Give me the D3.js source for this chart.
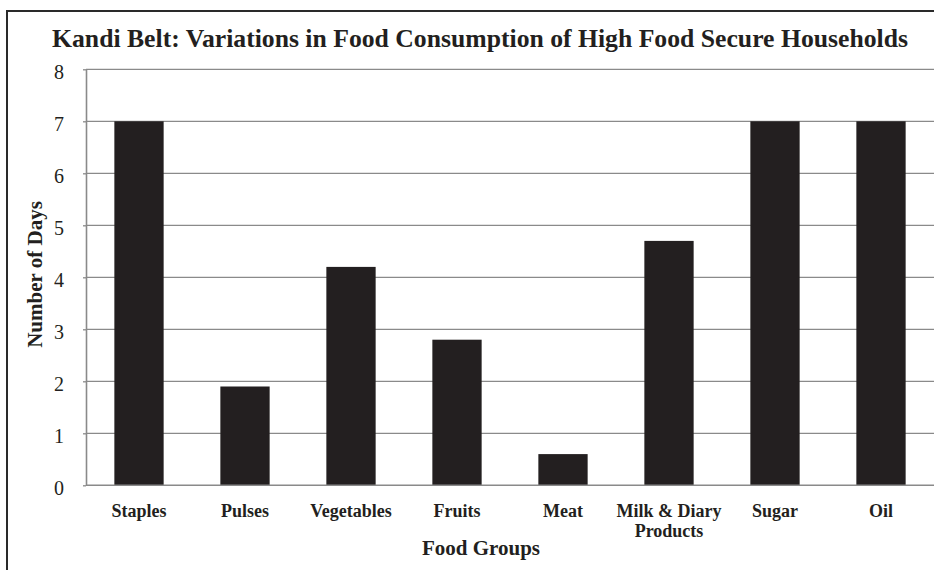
<!DOCTYPE html>
<html>
<head>
<meta charset="utf-8">
<script src="https://cdn.jsdelivr.net/npm/d3@7"></script>
<style>
  html, body { margin: 0; padding: 0; background: #fff; }
  svg { display: block; }
  text { font-family: "Liberation Serif", "Times New Roman", serif; fill: #231f20; }
</style>
</head>
<body>
<svg id="chart" width="934" height="570"></svg>
<script>
// Food groups and average number of days consumed per week
const categories = ["Staples", "Pulses", "Vegetables", "Fruits", "Meat", "Milk & Diary Products", "Sugar", "Oil"];
const categoryLines = [["Staples"], ["Pulses"], ["Vegetables"], ["Fruits"], ["Meat"], ["Milk & Diary", "Products"], ["Sugar"], ["Oil"]];
const daysValues = [7, 1.9, 4.2, 2.8, 0.6, 4.7, 7, 7];
const yTicks = [0, 1, 2, 3, 4, 5, 6, 7, 8];

const titleText = "Kandi Belt: Variations in Food Consumption of High Food Secure Households";
const xTitle = "Food Groups";
const yTitle = "Number of Days";

const svg = d3.select("#chart");
const W = 934, H = 570;
const plot = { left: 86, right: 934, top: 69.3, bottom: 485.3 };

// outer frame (left and top edges visible)
svg.append("rect")
  .attr("x", 7).attr("y", 11)
  .attr("width", W + 10).attr("height", H + 10)
  .attr("fill", "#fff")
  .attr("stroke", "#2a2a2a")
  .attr("stroke-width", 2);

const x = d3.scaleBand()
  .domain(categories)
  .range([plot.left, plot.right])
  .paddingInner(0.535)
  .paddingOuter(0.2675);

const y = d3.scaleLinear()
  .domain([0, 8])
  .range([plot.bottom, plot.top]);

// horizontal gridlines
svg.append("g")
  .selectAll("line")
  .data(yTicks.filter(t => t > 0))
  .join("line")
  .attr("x1", plot.left).attr("x2", plot.right)
  .attr("y1", d => y(d)).attr("y2", d => y(d))
  .attr("stroke", "#8a8a8a")
  .attr("stroke-width", 1.3);

// bars
svg.append("g")
  .selectAll("rect")
  .data(categories)
  .join("rect")
  .attr("x", d => x(d))
  .attr("width", x.bandwidth())
  .attr("y", (d, i) => y(daysValues[i]))
  .attr("height", (d, i) => y(0) - y(daysValues[i]))
  .attr("fill", "#231f20");

// y axis
const yAxis = svg.append("g")
  .attr("transform", `translate(${plot.left},0)`)
  .call(d3.axisLeft(y).tickValues(yTicks).tickSize(3).tickPadding(19).tickSizeOuter(0));
yAxis.select(".domain").attr("stroke", "#8a8a8a").attr("stroke-width", 1.6);
yAxis.selectAll(".tick line").attr("stroke", "#8a8a8a").attr("stroke-width", 1.3);
yAxis.selectAll(".tick text")
  .attr("font-size", 20)
  .attr("font-family", "Liberation Serif, serif")
  .attr("fill", "#231f20")
  .attr("dy", "0.45em");

// baseline
svg.append("line")
  .attr("x1", plot.left).attr("x2", plot.right)
  .attr("y1", y(0)).attr("y2", y(0))
  .attr("stroke", "#8a8a8a")
  .attr("stroke-width", 1.6);

// x category labels
const xLab = svg.append("g")
  .selectAll("text")
  .data(categories)
  .join("text")
  .attr("x", d => x(d) + x.bandwidth() / 2)
  .attr("y", 517)
  .attr("text-anchor", "middle")
  .attr("font-size", 18)
  .attr("font-weight", "bold");
xLab.each(function(d, i) {
  const t = d3.select(this);
  categoryLines[i].forEach((line, j) => {
    t.append("tspan")
      .attr("x", x(d) + x.bandwidth() / 2)
      .attr("dy", j === 0 ? 0 : 19.5)
      .text(line);
  });
});

// axis titles
svg.append("text")
  .attr("x", 481).attr("y", 555)
  .attr("text-anchor", "middle")
  .attr("font-size", 21)
  .attr("font-weight", "bold")
  .text(xTitle);

svg.append("text")
  .attr("transform", "translate(41.5,274.5) rotate(-90)")
  .attr("text-anchor", "middle")
  .attr("font-size", 21)
  .attr("font-weight", "bold")
  .text(yTitle);

// chart title
svg.append("text")
  .attr("x", 480).attr("y", 46.7)
  .attr("text-anchor", "middle")
  .attr("font-size", 25.7)
  .attr("font-weight", "bold")
  .text(titleText);
</script>
</body>
</html>
